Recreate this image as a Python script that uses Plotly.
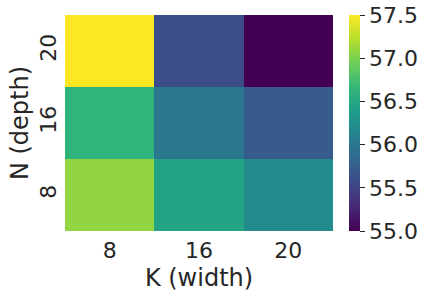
import plotly.graph_objects as go

k_labels = ["8", "16", "20"]
n_labels = ["8", "16", "20"]  # bottom to top
# rows correspond to n_labels (bottom to top), columns to k_labels
values = [
    [57.08, 56.45, 56.20],  # N=8
    [56.62, 56.00, 55.72],  # N=16
    [57.50, 55.60, 55.00],  # N=20
]
cbar_ticks = [55.0, 55.5, 56.0, 56.5, 57.0, 57.5]

font_family = "DejaVu Sans"
text_color = "#262626"

fig = go.Figure(
    go.Heatmap(
        z=values,
        x=k_labels,
        y=n_labels,
        colorscale="Viridis",
        zmin=55.0,
        zmax=57.5,
        xgap=0,
        ygap=0,
        colorbar=dict(
            x=1.06,
            xanchor="left",
            xpad=0,
            ypad=0,
            y=0.5,
            yanchor="middle",
            len=1.0,
            lenmode="fraction",
            thickness=11,
            thicknessmode="pixels",
            outlinewidth=0,
            tickmode="array",
            tickvals=cbar_ticks,
            ticktext=[f"{v:.1f}" for v in cbar_ticks],
            ticks="outside",
            ticklen=5,
            tickwidth=1,
            tickcolor=text_color,
            tickfont=dict(family=font_family, size=22, color=text_color),
        ),
    )
)

fig.update_layout(
    width=425,
    height=297,
    margin=dict(l=65, r=92, t=15, b=66, autoexpand=False),
    paper_bgcolor="white",
    plot_bgcolor="white",
    font=dict(family=font_family, color=text_color),
    xaxis=dict(
        type="category",
        showgrid=False,
        zeroline=False,
        showline=False,
        ticks="",
        automargin=False,
        ticklabelstandoff=4,
        tickfont=dict(size=22, color=text_color),
        title=dict(text="K (width)", font=dict(size=24, color=text_color), standoff=7),
    ),
    yaxis=dict(
        type="category",
        showgrid=False,
        zeroline=False,
        showline=False,
        ticks="",
        automargin=False,
        tickangle=-90,
        ticklabelstandoff=4,
        tickfont=dict(size=22, color=text_color),
        title=dict(text="N (depth)", font=dict(size=24, color=text_color), standoff=0),
    ),
)

fig.write_html(
    "out.html",
    config={"displayModeBar": False},
    post_script="document.body.style.margin='0';document.body.style.overflow='hidden';",
)
